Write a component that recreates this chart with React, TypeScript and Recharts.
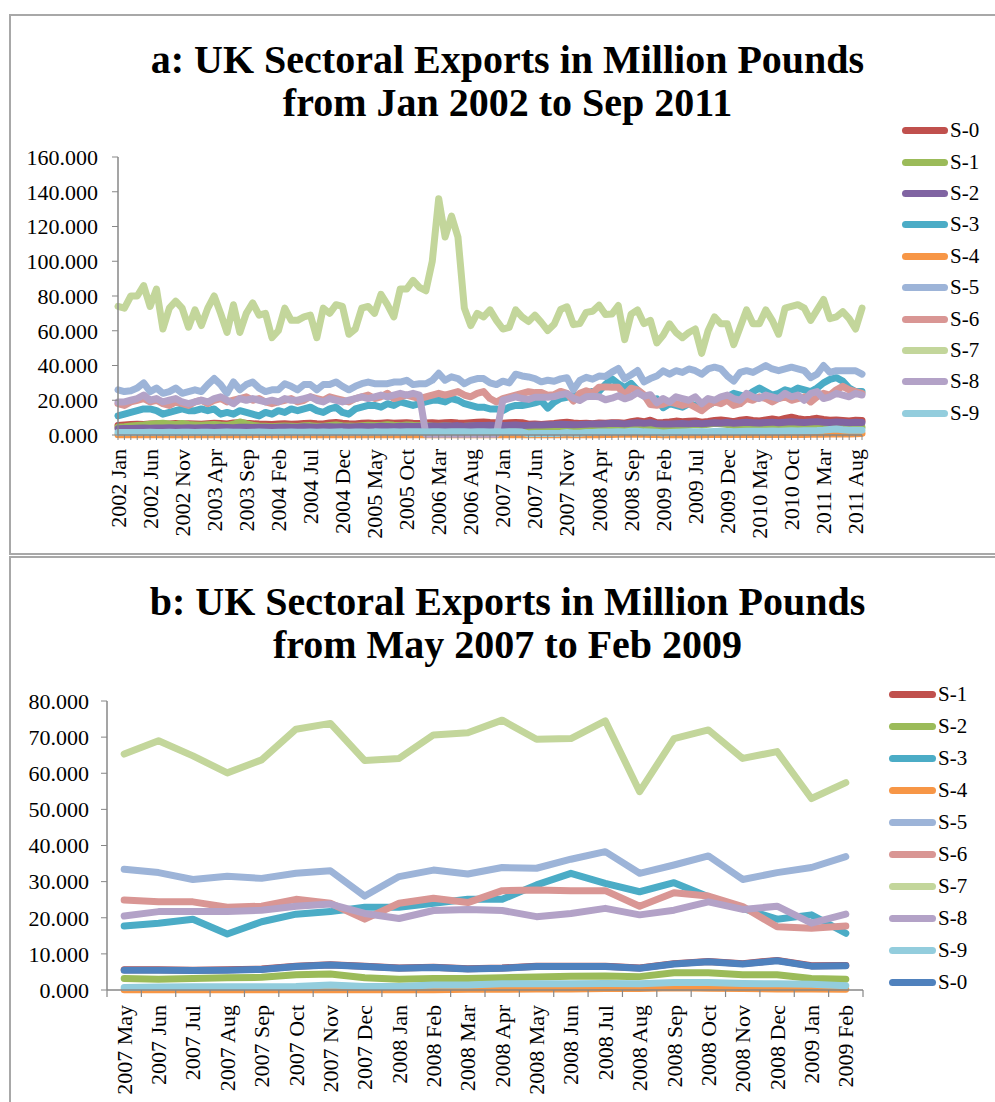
import React from 'react';
import { LineChart, Line, XAxis, YAxis, Legend } from 'recharts';

const FONT = '"Liberation Serif", "Times New Roman", serif';
const AXIS = '#878787';
const LINE_W = 7;

const MONTHS = ['Jan', 'Feb', 'Mar', 'Apr', 'May', 'Jun', 'Jul', 'Aug', 'Sep', 'Oct', 'Nov', 'Dec'];
const START_YEAR = 2002;
const N_MONTHS_A = 117; // Jan 2002 .. Sep 2011
const categoriesA: string[] = Array.from({ length: N_MONTHS_A }, (_, i) => `${START_YEAR + Math.floor(i / 12)} ${MONTHS[i % 12]}`);
const B_START = 64; // 2007 May
const B_END = 86; // up to 2009 Feb
const categoriesB: string[] = categoriesA.slice(B_START, B_END);

const ticksA = [0, 20, 40, 60, 80, 100, 120, 140, 160];
const ticksB = [0, 10, 20, 30, 40, 50, 60, 70, 80];

// ---------- Panel a series (Jan 2002 - Sep 2011) ----------
const aS0 = [
  5.5, 5.8, 6, 6.2, 6, 6.3, 6.5, 6.2, 6.4, 6.6, 6.3, 6.5,
  6.4, 6.2, 6.5, 6.8, 6.6, 6.4, 6.9, 7, 6.7, 6.5, 6.3, 6.2,
  6, 6.3, 6.5, 6.2, 6.4, 6.6, 6.8, 6.5, 6.3, 6.9, 7.2, 6.8,
  6.5, 6.4, 6.7, 6.9, 6.6, 6.8, 7, 6.7, 6.9, 7.1, 6.8, 6.6,
  6.9, 7.1, 6.8, 7, 7.2, 6.9, 6.7, 7, 7.3, 7.5, 7.2, 7,
  6.8, 7, 7.2, 7.1,
  6.2, 6.3, 6.1, 6.4, 6.6, 7, 7.3, 6.9, 6.6, 6.8, 6.5, 6.9, 6.8, 7, 7.1, 6.8, 7.6, 8.2, 7.6, 8.5, 7.1, 7.2,
  7.5, 8, 7.6, 7.9, 8.1, 7.4, 7.8, 8.3, 8.6, 8.2, 7.7, 8.5,
  8.9, 8.4, 8.1, 8.7, 9.2, 8.6, 9.5, 10.2, 9.4, 8.8, 9.1, 9.6,
  8.9, 8.5, 8.7, 8.4, 8.1, 8.5, 8.3,
];
const aS1 = [
  4.5, 4.8, 5.2, 5.5, 5.8, 6.2, 6.5, 6.8, 6.3, 6.1, 6.6, 6,
  5.8, 5.6, 5.9, 6.1, 5.7, 5.5, 6.2, 7.5, 6.4, 5.6, 5.2, 5,
  4.8, 5, 5.2, 5.1, 4.9, 5.3, 5.4, 5.1, 5, 5.5, 5.8, 5.3,
  5.2, 5, 5.3, 5.6, 5.4, 5.5, 5.9, 5.6, 5.4, 5.8, 5.6, 5.5,
  5.4, 5.2, 5.1, 5.3, 5, 4.9, 5, 5.2, 5.3, 5.4, 5.1, 5,
  5.1, 5.2, 5.4, 5.3,
  3.2, 3, 3.2, 3.4, 3.5, 4.2, 4.4, 3.4, 3, 3.2, 3.2, 3.4, 3.6, 3.8, 3.9, 3.9, 4.8, 4.8, 4.2, 4.2, 3.2, 3,
  4.5, 5, 5.3, 5.6, 6, 5.8, 6.2, 6.8, 6.5, 6.1, 5.5, 5.2,
  5, 4.8, 4.6, 4.9, 5.1, 4.7, 4.5, 4.8, 5, 4.6, 4.4, 4.7,
  4.9, 4.5, 4.3, 4.6, 4.4, 4.2, 4.5,
];
const aS2 = [
  3.6, 3.7, 3.8, 3.9, 4, 3.9, 4.1, 4, 4.2, 4.1, 4, 4.2,
  4.1, 4.2, 4.3, 4.2, 4.4, 4.3, 4.2, 4.5, 4.4, 4.3, 4.5, 4.4,
  4.3, 4.5, 4.6, 4.4, 4.5, 4.7, 4.6, 4.5, 4.7, 4.8, 4.6, 4.7,
  4.6, 4.8, 4.9, 4.7, 4.8, 5, 4.9, 4.8, 5, 5.1, 4.9, 5,
  5.1, 5.2, 5, 5.3, 5.2, 5.4, 5.1, 5.3, 5.5, 5.4, 5.6, 5.5,
  5.4, 5.6, 5.7, 5.5,
  5.6, 5.8, 5.7, 5.9, 6, 6.2, 6.1, 5.9, 6, 6.2, 6.4, 6.3, 6.5, 6.7, 6.6, 6.4, 6.8, 7, 6.7, 7.1, 6.5, 6.4,
  6.3, 6.5, 6.6, 6.4, 6.7, 6.5, 6.8, 7, 6.9, 7.2, 6.8, 7,
  7.3, 7.1, 6.9, 7.2, 7.4, 7, 7.3, 7.6, 7.4, 7.2, 7.5, 7.7,
  7.4, 7.2, 7.5, 7.3, 7.1, 7.4, 7.2,
];
const aS3 = [
  11, 12, 13, 14, 15, 15, 14, 12, 13, 14, 15, 14,
  14, 15, 14, 15, 12, 13, 12, 14, 13, 12, 11, 13,
  12, 14, 13, 15, 14, 15, 16, 14, 13, 15, 16, 13,
  12, 15, 16, 17, 17, 16, 18, 17, 19, 18, 17, 18,
  19, 20, 20, 19, 21, 20, 18, 17, 16, 16, 15, 15,
  14, 16, 17, 17,
  17.7, 18.5, 19.6, 15.5, 18.9, 21, 21.7, 22.9, 22.9, 24, 25.1, 25.1, 29.1, 32.3, 29.5, 27.2, 29.7, 25.8, 22.6, 19.6, 20.8, 15.7,
  18, 17, 16, 18, 17, 18, 17, 19, 21, 22, 24, 23,
  22, 25, 27, 25, 23, 24, 26, 25, 27, 26, 25, 27,
  30, 32, 33, 31, 27, 25, 25,
];
const aS4 = [
  0.2, 0.2, 0.3, 0.2, 0.2, 0.3, 0.2, 0.2, 0.3, 0.2, 0.2, 0.3,
  0.2, 0.3, 0.2, 0.2, 0.3, 0.2, 0.2, 0.3, 0.2, 0.2, 0.3, 0.2,
  0.2, 0.2, 0.3, 0.2, 0.2, 0.3, 0.2, 0.2, 0.3, 0.2, 0.2, 0.3,
  0.2, 0.3, 0.2, 0.2, 0.3, 0.2, 0.2, 0.3, 0.2, 0.2, 0.3, 0.2,
  0.2, 0.2, 0.3, 0.2, 0.2, 0.3, 0.2, 0.2, 0.3, 0.2, 0.2, 0.1,
  0.1, 0.1, 0.1, 0.1,
  0.1, 0.1, 0.1, 0.1, 0.1, 0.1, 0.1, 0.1, 0.1, 0.1, 0.2, 0.2, 0.3, 0.3, 0.4, 0.4, 0.6, 0.5, 0.4, 0.3, 0.3, 0.2,
  0.2, 0.2, 0.2, 0.3, 0.2, 0.2, 0.3, 0.3, 0.3, 0.5, 0.3, 0.3,
  0.3, 0.3, 0.3, 0.3, 0.3, 0.3, 0.4, 0.3, 0.3, 0.3, 0.4, 0.4,
  0.5, 0.6, 0.6, 0.7, 0.6, 0.7, 0.9,
];
const aS5 = [
  26, 25, 25.5, 27, 30, 25, 27, 24, 25, 27, 24, 25,
  26, 25, 29, 32.5, 29, 24, 30.5, 26, 29, 30.5, 27, 25,
  26, 26, 29.5, 28, 26, 29, 29, 26, 29, 29, 30.5, 28,
  26, 28, 29.5, 30.5, 29.5, 29.5, 29.5, 30.5, 30.5, 31.5, 29, 29.5,
  29.5, 31.5, 35.5, 31.5, 33.5, 32.5, 29.5, 31.5, 32.5, 32.5, 30, 29,
  31, 30, 35, 34,
  33.4, 32.5, 30.6, 31.5, 30.9, 32.3, 33, 26, 31.4, 33.2, 32.1, 33.9, 33.7, 36.2, 38.3, 32.3, 34.6, 37.1, 30.6, 32.5, 33.9, 36.9,
  35, 37, 36, 38, 37, 35, 38, 39, 38, 34, 31, 36,
  37, 36, 38, 40, 38, 37, 38, 39, 38, 37, 33, 35,
  40, 36, 37, 37, 37, 37, 35,
];
const aS6 = [
  18, 17, 19, 20, 21, 19, 20, 18, 17, 19, 18, 17,
  19, 20, 18, 20, 21, 19, 20, 21, 22, 20, 21, 19,
  18, 19, 20, 21, 19, 20, 22, 21, 20, 22, 21, 20,
  19, 21, 22, 23, 21, 22, 24, 21, 22, 23, 22, 21,
  22, 23, 24, 23, 24, 25, 23, 22, 24, 25, 21, 19,
  21, 22, 23, 24,
  24.9, 24.4, 24.4, 22.9, 23.2, 25.1, 24, 19.6, 24, 25.4, 24.2, 27.5, 27.7, 27.5, 27.5, 23.2, 26.9, 26, 23.1, 17.5, 17.1, 17.7,
  19, 18, 17, 18, 16, 14, 17, 19, 18, 20, 17, 18,
  21, 20, 22, 21, 19, 21, 22, 20, 21, 22, 19, 22,
  24, 23, 26, 28, 26, 25, 24,
];
const aS7 = [
  74, 73, 80, 80, 86, 74, 84, 61, 73, 77, 73, 62,
  72, 63, 73, 80, 70, 59, 75, 59, 70, 76, 69, 70,
  56, 60, 73, 66, 66, 68, 69, 56, 73, 70, 75, 74,
  58, 61, 73, 74, 70, 81, 75, 68, 84, 84, 89, 85,
  83, 100, 136, 114, 126, 114, 73, 63, 70, 68, 72, 66,
  61, 62, 72, 68,
  65.3, 69, 64.8, 60.1, 63.7, 72.2, 73.8, 63.5, 64.1, 70.6, 71.2, 74.7, 69.4, 69.6, 74.5, 54.9, 69.6, 72, 64.1, 66, 53, 57.4,
  64, 59, 56, 59, 61, 47, 60, 68, 64, 64, 52, 62,
  72, 64, 64, 72, 66, 58, 73, 74, 75, 73, 66, 72,
  78, 67, 68, 71, 67, 61, 73,
];
const aS8 = [
  19, 19, 20, 21, 23, 20, 21, 19, 20, 21, 19, 18,
  19, 20, 19, 21, 22, 20, 18, 21, 20, 21, 20, 19,
  20, 19, 21, 20, 20, 21, 22, 20, 19, 21, 20, 19,
  20, 21, 22, 21, 22, 23, 22, 23, 24, 23, 24, 23,
  0.5, 0.5, 0.5, 0.5, 0.5, 0.5, 0.5, 0.5, 0.5, 0.5, 0.5, 0.5,
  20, 21, 22, 21,
  20.5, 21.7, 21.7, 21.7, 22.1, 23.2, 23.8, 21.2, 19.8, 22, 22.3, 22, 20.3, 21.2, 22.6, 20.8, 22.1, 24.4, 22.3, 23.2, 18.5, 21,
  19, 22, 21, 20, 22, 18, 21, 20, 22, 23, 21, 20,
  24, 22, 21, 23, 22, 21, 24, 22, 23, 20, 24, 25,
  21, 22, 24, 23, 22, 24, 23,
];
const aS9 = [
  1.4, 1.4, 1.5, 1.5, 1.5, 1.6, 1.5, 1.5, 1.6, 1.5, 1.6, 1.6,
  1.5, 1.6, 1.6, 1.5, 1.6, 1.7, 1.6, 1.6, 1.5, 1.6, 1.7, 1.6,
  1.5, 1.6, 1.6, 1.7, 1.6, 1.6, 1.7, 1.6, 1.7, 1.6, 1.7, 1.8,
  1.6, 1.7, 1.7, 1.6, 1.8, 1.7, 1.7, 1.8, 1.7, 1.8, 1.9, 1.8,
  1.7, 1.8, 1.8, 1.7, 1.8, 1.9, 1.8, 1.7, 1.8, 1.8, 1.7, 1.8,
  1.7, 1.8, 1.8, 1.7,
  0.7, 0.8, 0.9, 0.9, 0.9, 1, 1.4, 1, 1, 1.4, 1.4, 1.7, 1.7, 1.7, 1.8, 1.7, 2.1, 2.1, 1.8, 1.7, 1.6, 1.2,
  1.5, 1.6, 1.7, 1.8, 1.9, 1.8, 1.9, 2, 2.1, 2, 1.9, 2,
  2.1, 2.2, 2.1, 2.2, 2.3, 2.2, 2.3, 2.4, 2.3, 2.4, 2.5, 2.6,
  2.8, 3.2, 3.4, 3, 2.8, 2.7, 2.8,
];

// ---------- Panel b series (May 2007 - Feb 2009) ----------
const bS1 = [5.6, 5.6, 5.5, 5.6, 5.8, 6.6, 7, 6.6, 6.1, 6.3, 5.9, 6.1, 6.6, 6.6, 6.6, 6.1, 7.3, 7.9, 7.3, 8.2, 6.7, 6.8];
const bS2 = [3.2, 3, 3.2, 3.4, 3.5, 4.2, 4.4, 3.4, 3, 3.2, 3.2, 3.4, 3.6, 3.8, 3.9, 3.7, 4.8, 4.8, 4.2, 4.2, 3.2, 3];
const bS3 = [17.7, 18.5, 19.6, 15.5, 18.9, 21, 21.7, 22.9, 22.9, 24, 25.1, 25.1, 29.1, 32.3, 29.5, 27.2, 29.7, 25.8, 22.6, 19.6, 20.8, 15.7];
const bS4 = [0.1, 0.1, 0.1, 0.1, 0.1, 0.1, 0.1, 0.1, 0.1, 0.1, 0.2, 0.2, 0.3, 0.3, 0.4, 0.4, 0.6, 0.5, 0.4, 0.3, 0.3, 0.2];
const bS5 = [33.4, 32.5, 30.6, 31.5, 30.9, 32.3, 33, 26, 31.4, 33.2, 32.1, 33.9, 33.7, 36.2, 38.3, 32.3, 34.6, 37.1, 30.6, 32.5, 33.9, 36.9];
const bS6 = [24.9, 24.4, 24.4, 22.9, 23.2, 25.1, 24, 19.6, 24, 25.4, 24.2, 27.5, 27.7, 27.5, 27.5, 23.2, 26.9, 26, 23.1, 17.5, 17.1, 17.7];
const bS7 = [65.3, 69, 64.8, 60.1, 63.7, 72.2, 73.8, 63.5, 64.1, 70.6, 71.2, 74.7, 69.4, 69.6, 74.5, 54.9, 69.6, 72, 64.1, 66, 53, 57.4];
const bS8 = [20.5, 21.7, 21.7, 21.7, 22.1, 23.2, 23.8, 21.2, 19.8, 22, 22.3, 22, 20.3, 21.2, 22.6, 20.8, 22.1, 24.4, 22.3, 23.2, 18.5, 21];
const bS9 = [0.7, 0.8, 0.9, 0.9, 0.9, 1, 1.4, 1, 1, 1.4, 1.4, 1.7, 1.7, 1.7, 1.8, 1.7, 2.1, 2.1, 1.8, 1.7, 1.6, 1.2];
const bS0 = [5.5, 5.5, 5.4, 5.5, 5.7, 6.5, 6.9, 6.5, 6, 6.2, 5.8, 6, 6.5, 6.5, 6.5, 6, 7.2, 7.8, 7.2, 8.1, 6.6, 6.7];

const namesA = ['S-0', 'S-1', 'S-2', 'S-3', 'S-4', 'S-5', 'S-6', 'S-7', 'S-8', 'S-9'];
const valuesA = [aS0, aS1, aS2, aS3, aS4, aS5, aS6, aS7, aS8, aS9];
const colorsA = ['#C0504D', '#9BBB59', '#8064A2', '#4BACC6', '#F79646', '#9DB4D8', '#D99694', '#C3D69B', '#B3A2C7', '#93CDDD'];

const namesB = ['S-1', 'S-2', 'S-3', 'S-4', 'S-5', 'S-6', 'S-7', 'S-8', 'S-9', 'S-0'];
const valuesB = [bS1, bS2, bS3, bS4, bS5, bS6, bS7, bS8, bS9, bS0];
const colorsB = ['#C0504D', '#9BBB59', '#4BACC6', '#F79646', '#9DB4D8', '#D99694', '#C3D69B', '#B3A2C7', '#93CDDD', '#4F81BD'];

type Row = Record<string, number | string>;
const buildRows = (cats: string[], names: string[], values: number[][]): Row[] =>
  cats.map((c, i) => {
    const r: Row = { cat: c };
    names.forEach((n, k) => {
      r[n] = values[k][i];
    });
    return r;
  });

const dataA = buildRows(categoriesA, namesA, valuesA);
const dataB = buildRows(categoriesB, namesB, valuesB);

const makeLegend = (order: string[], spacing: number, lineW: number) => (props: any) => {
  const payload = [...(props.payload || [])].sort(
    (p: any, q: any) => order.indexOf(String(p.value)) - order.indexOf(String(q.value))
  );
  return (
    <div style={{ fontFamily: FONT, fontSize: 21, color: '#000' }}>
      {payload.map((p: any) => (
        <div key={String(p.value)} style={{ height: spacing, display: 'flex', alignItems: 'center' }}>
          <div style={{ width: lineW, height: 7, borderRadius: 3.5, background: p.color }} />
          <span style={{ marginLeft: 2, lineHeight: 1 }}>{p.value}</span>
        </div>
      ))}
    </div>
  );
};

const TickA = (props: any) => {
  const { x, y, payload, index } = props;
  const ly = y + 14;
  return (
    <g>
      <line x1={x} y1={y} x2={x} y2={y + 5} stroke={AXIS} strokeWidth={1} />
      {index % 5 === 0 && (
        <text
          x={x}
          y={ly}
          transform={`rotate(-90 ${x} ${ly})`}
          textAnchor="end"
          dominantBaseline="central"
          fontSize={22}
          fontFamily={FONT}
          fill="#000"
        >
          {payload.value}
        </text>
      )}
    </g>
  );
};

const TickB = (props: any) => {
  const { x, y, payload, index, visibleTicksCount, width } = props;
  const step = width && visibleTicksCount ? width / visibleTicksCount : 34.4;
  const ly = y + 15;
  return (
    <g>
      <line x1={x - step / 2} y1={y} x2={x - step / 2} y2={y + 7} stroke={AXIS} strokeWidth={1.2} />
      {index === visibleTicksCount - 1 && (
        <line x1={x + step / 2} y1={y} x2={x + step / 2} y2={y + 7} stroke={AXIS} strokeWidth={1.2} />
      )}
      <text
        x={x}
        y={ly}
        transform={`rotate(-90 ${x} ${ly})`}
        textAnchor="end"
        dominantBaseline="central"
        fontSize={22}
        fontFamily={FONT}
        fill="#000"
      >
        {payload.value}
      </text>
    </g>
  );
};

const titleStyle = (top: number): React.CSSProperties => ({
  position: 'absolute',
  left: 0,
  top,
  width: 1015,
  textAlign: 'center',
  fontFamily: FONT,
  fontWeight: 'bold',
  fontSize: 40,
  lineHeight: '43px',
  color: '#000',
  whiteSpace: 'nowrap',
});

export default function App() {
  return (
    <div style={{ position: 'absolute', left: 0, top: 0, width: 995, height: 1102, background: '#fff', overflow: 'hidden' }}>
      {/* Panel a */}
      <div style={{ position: 'absolute', left: 9, top: 14, width: 1000, height: 541, border: '2px solid #A8A8A8', boxSizing: 'border-box' }} />
      <div style={{ position: 'absolute', left: 0, top: 0 }}>
        <LineChart width={995} height={555} data={dataA} margin={{ top: 157, right: 133, bottom: 0, left: 18 }}>
          <XAxis
            dataKey="cat"
            interval={0}
            height={120}
            tickLine={false}
            tickSize={0}
            tickMargin={0}
            axisLine={{ stroke: AXIS, strokeWidth: 1.5 }}
            tick={(p: any) => <TickA {...p} />}
          />
          <YAxis
            width={100}
            domain={[0, 160]}
            ticks={ticksA}
            interval={0}
            tickFormatter={(v: number) => v.toFixed(3)}
            axisLine={{ stroke: AXIS, strokeWidth: 1.5 }}
            tickLine={{ stroke: AXIS }}
            tickSize={6}
            tickMargin={14}
            tick={{ fontSize: 22, fontFamily: FONT, fill: '#000' }}
          />
          {namesA.map((n, k) => (
            <Line
              key={n}
              type="linear"
              dataKey={n}
              name={n}
              stroke={colorsA[k]}
              strokeWidth={LINE_W}
              strokeLinejoin="round"
              strokeLinecap="round"
              dot={false}
              activeDot={false}
              isAnimationActive={false}
            />
          ))}
          <Legend
            layout="vertical"
            align="center"
            verticalAlign="middle"
            content={makeLegend(namesA, 31.4, 46)}
            wrapperStyle={{ left: 902, top: 115, width: 92 }}
          />
        </LineChart>
      </div>
      <div style={titleStyle(38)}>
        a: UK Sectoral Exports in Million Pounds
        <br />
        from Jan 2002 to Sep 2011
      </div>

      {/* Panel b */}
      <div style={{ position: 'absolute', left: 9, top: 556, width: 1000, height: 600, border: '2px solid #A8A8A8', boxSizing: 'border-box' }} />
      <div style={{ position: 'absolute', left: 0, top: 555 }}>
        <LineChart width={995} height={547} data={dataB} margin={{ top: 146, right: 132, bottom: 0, left: 7 }}>
          <XAxis
            dataKey="cat"
            scale="band"
            interval={0}
            height={112}
            tickLine={false}
            tickSize={0}
            tickMargin={0}
            axisLine={{ stroke: AXIS, strokeWidth: 1.5 }}
            tick={(p: any) => <TickB {...p} />}
          />
          <YAxis
            width={100}
            domain={[0, 80]}
            ticks={ticksB}
            interval={0}
            tickFormatter={(v: number) => v.toFixed(3)}
            axisLine={{ stroke: AXIS, strokeWidth: 1.5 }}
            tickLine={{ stroke: AXIS }}
            tickSize={6}
            tickMargin={12}
            tick={{ fontSize: 22, fontFamily: FONT, fill: '#000' }}
          />
          {namesB.map((n, k) => (
            <Line
              key={n}
              type="linear"
              dataKey={n}
              name={n}
              stroke={colorsB[k]}
              strokeWidth={LINE_W}
              strokeLinejoin="round"
              strokeLinecap="round"
              dot={false}
              activeDot={false}
              isAnimationActive={false}
            />
          ))}
          <Legend
            layout="vertical"
            align="center"
            verticalAlign="middle"
            content={makeLegend(namesB, 32.1, 47)}
            wrapperStyle={{ left: 889, top: 123, width: 100 }}
          />
        </LineChart>
      </div>
      <div style={titleStyle(580)}>
        b: UK Sectoral Exports in Million Pounds
        <br />
        from May 2007 to Feb 2009
      </div>
    </div>
  );
}
